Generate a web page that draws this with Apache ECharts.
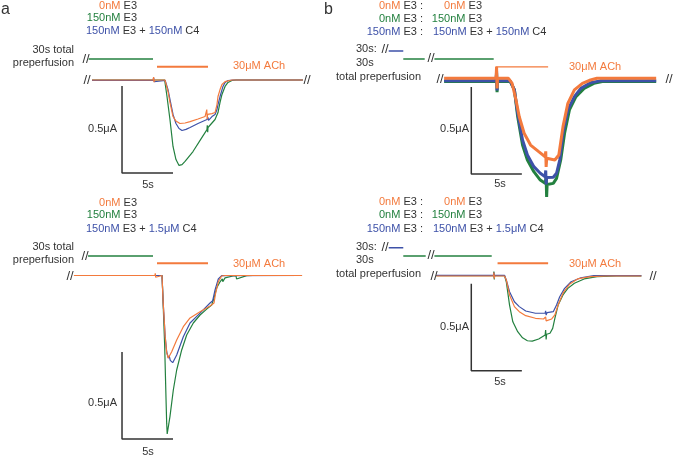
<!DOCTYPE html>
<html><head><meta charset="utf-8">
<script src="https://cdn.jsdelivr.net/npm/echarts@6/dist/echarts.min.js"></script>
<style>html,body{margin:0;padding:0;background:#fff}#c{width:676px;height:457px}</style>
</head><body><div id="c"></div>
<script>
// ---- data: time (s, 0 = ACh onset), current (uA) ----
const aTopOrange = [[-6.37,0],[-0.4,0],[-0.33,0.017],[-0.29,-0.012],[-0.25,0],[0.78,0],[1.08,-0.066],[1.27,-0.129],[1.57,-0.21],[1.86,-0.236],[2.25,-0.25],[2.75,-0.247],[3.24,-0.239],[4.02,-0.224],[4.71,-0.21],[4.85,-0.2],[4.88,-0.17],[4.92,-0.225],[4.96,-0.198],[5.39,-0.193],[5.69,-0.187],[5.88,-0.141],[5.98,-0.095],[6.18,-0.055],[6.37,-0.026],[6.67,-0.009],[6.86,-0.003],[7.35,0],[14.31,0]];
const aTopBlue = [[-6.37,-0.002],[-0.4,-0.002],[-0.32,0.012],[-0.27,-0.01],[-0.22,-0.002],[0.8,-0.002],[1.08,-0.055],[1.27,-0.112],[1.57,-0.198],[1.86,-0.25],[2.16,-0.279],[2.45,-0.29],[2.84,-0.284],[3.24,-0.273],[4.02,-0.25],[4.9,-0.227],[5.0,-0.215],[5.05,-0.232],[5.39,-0.21],[5.69,-0.198],[5.88,-0.17],[5.98,-0.141],[6.18,-0.095],[6.47,-0.037],[6.67,-0.014],[6.96,-0.003],[7.45,0],[14.31,0]];
const aTopGreen = [[-6.37,0],[-0.4,0],[0.75,0],[0.98,-0.095],[1.27,-0.227],[1.57,-0.382],[1.86,-0.457],[2.16,-0.491],[2.45,-0.486],[2.75,-0.468],[3.53,-0.411],[4.41,-0.33],[4.9,-0.285],[4.93,-0.26],[4.97,-0.3],[5.0,-0.273],[5.69,-0.227],[5.98,-0.187],[6.18,-0.129],[6.37,-0.083],[6.67,-0.037],[6.96,-0.014],[7.35,-0.003],[7.75,0],[14.31,0]];

const aBotOrange = [[-8.14,0],[-0.2,0],[-0.17,0.012],[-0.13,-0.01],[-0.1,0],[0.49,0],[0.6,-0.15],[0.8,-0.35],[0.95,-0.445],[1.11,-0.474],[1.44,-0.438],[1.93,-0.371],[2.58,-0.294],[3.24,-0.244],[4.22,-0.208],[5.2,-0.175],[5.59,-0.158],[5.75,-0.101],[6.01,-0.036],[6.34,-0.003],[6.67,0],[14.22,0]];
const aBotBlue = [[-8.14,0],[0.49,0],[0.6,-0.15],[0.8,-0.35],[0.95,-0.438],[1.11,-0.474],[1.2,-0.462],[1.3,-0.488],[1.54,-0.501],[1.93,-0.457],[2.58,-0.352],[3.24,-0.273],[4.22,-0.216],[5.2,-0.158],[5.46,-0.145],[5.69,-0.083],[6.01,-0.02],[6.34,-0.001],[14.22,0]];
const aBotGreen = [[-8.14,0],[0.5,0],[0.56,-0.007],[0.75,-0.4],[0.88,-0.7],[0.95,-0.85],[1.0,-0.911],[1.05,-0.905],[1.27,-0.811],[1.6,-0.658],[1.93,-0.543],[2.42,-0.428],[2.91,-0.342],[3.56,-0.273],[4.22,-0.227],[4.87,-0.193],[5.36,-0.17],[5.59,-0.129],[5.85,-0.072],[6.18,-0.036],[6.4,-0.02],[6.45,-0.035],[6.6,-0.025],[6.67,-0.014],[7.45,-0.003],[7.75,-0.003],[7.8,-0.02],[7.94,-0.009],[8.79,-0.001],[9.41,0],[14.22,0]];

const bTopOrange = [[-5.39,0.01],[-0.15,0.01],[-0.1,0.076],[-0.05,-0.048],[0.0,0.01],[1.1,0.01],[1.47,-0.02],[1.86,-0.115],[2.19,-0.211],[2.68,-0.306],[3.33,-0.374],[4.15,-0.412],[4.8,-0.441],[4.86,-0.41],[4.9,-0.5],[4.96,-0.45],[5.13,-0.46],[5.78,-0.46],[6.18,-0.431],[6.6,-0.268],[7.09,-0.134],[7.75,-0.057],[8.56,-0.019],[9.38,0],[10.03,0.01],[16.0,0.01]];
const bTopBlue = [[-5.39,-0.005],[-0.15,-0.005],[-0.1,0.05],[-0.05,-0.06],[0.0,-0.005],[1.27,-0.005],[1.7,-0.057],[2.03,-0.191],[2.52,-0.345],[3.01,-0.431],[3.66,-0.498],[4.31,-0.536],[4.8,-0.556],[4.86,-0.52],[4.9,-0.6],[4.95,-0.56],[5.62,-0.559],[5.95,-0.536],[6.27,-0.46],[6.6,-0.306],[7.09,-0.172],[7.75,-0.096],[8.4,-0.048],[9.38,-0.016],[10.36,-0.005],[16.0,-0.005]];
const bTopGreen = [[-5.39,-0.008],[-0.15,-0.008],[-0.1,0.04],[-0.05,-0.07],[0.0,-0.008],[1.27,-0.008],[1.7,-0.057],[2.03,-0.211],[2.52,-0.374],[3.01,-0.46],[3.66,-0.527],[4.31,-0.575],[4.8,-0.594],[4.9,-0.557],[4.95,-0.672],[5.0,-0.6],[5.62,-0.594],[5.95,-0.565],[6.37,-0.46],[6.76,-0.306],[7.25,-0.172],[7.91,-0.096],[8.73,-0.048],[9.71,-0.019],[10.69,-0.008],[16.0,-0.008]];

const bBotOrange = [[-6.18,0],[-0.4,0],[-0.37,0.02],[-0.33,-0.015],[-0.3,0],[0.7,0],[0.88,-0.023],[1.21,-0.109],[1.7,-0.176],[2.19,-0.205],[2.84,-0.228],[3.82,-0.243],[4.64,-0.247],[4.8,-0.247],[4.85,-0.235],[4.9,-0.258],[5.46,-0.247],[5.78,-0.224],[6.11,-0.167],[6.6,-0.099],[7.25,-0.048],[8.07,-0.017],[9.38,-0.004],[11,0],[14.51,0]];
const bBotBlue = [[-6.18,0.004],[-0.4,0.004],[-0.37,0.02],[-0.33,-0.01],[-0.3,0.004],[0.7,0.004],[0.88,-0.023],[1.21,-0.09],[1.7,-0.148],[2.19,-0.176],[2.84,-0.201],[3.82,-0.214],[4.8,-0.214],[4.85,-0.2],[4.9,-0.225],[5.0,-0.21],[5.62,-0.205],[5.95,-0.167],[6.27,-0.119],[6.76,-0.071],[7.42,-0.033],[8.4,-0.01],[9.71,0.002],[14.51,0.002]];
const bBotGreen = [[-6.18,0.002],[-0.4,0.002],[-0.37,0.025],[-0.33,-0.02],[-0.3,0.002],[0.7,0.002],[0.88,-0.033],[1.21,-0.167],[1.54,-0.263],[2.03,-0.32],[2.52,-0.355],[3.01,-0.372],[3.5,-0.374],[4.15,-0.362],[4.8,-0.339],[4.85,-0.31],[4.9,-0.365],[4.95,-0.335],[5.29,-0.329],[5.56,-0.301],[5.78,-0.243],[6.11,-0.167],[6.6,-0.109],[7.09,-0.071],[7.75,-0.042],[8.73,-0.017],[10.03,-0.004],[11.99,0],[14.51,0]];

// perfusion bars (time span, drawn level)
const aTopPre = [[-6.7,0.121],[-0.39,0.121]];
const aTopAch = [[0,0.076],[5.0,0.076]];
const aBotPre = [[-6.76,0.112],[-0.39,0.112]];
const aBotAch = [[0,0.07],[5.0,0.07]];
const bTopPreBlue = [[-10.98,0.167],[-9.51,0.167]];
const bTopPreGreen1 = [[-9.51,0.121],[-7.35,0.121]];
const bTopPreGreen2 = [[-6.37,0.121],[-0.39,0.121]];
const bTopAch = [[-0.2,0.076],[5.1,0.076]];
const bBotPreBlue = [[-10.98,0.163],[-9.51,0.163]];
const bBotPreGreen1 = [[-9.51,0.115],[-7.25,0.115]];
const bBotPreGreen2 = [[-6.37,0.115],[-0.59,0.115]];
const bBotAch = [[0,0.073],[5.1,0.073]];

// scale bars: 0.5 uA vertical, 5 s horizontal
const aTopScale = [[-3.43,-0.035],[-3.43,-0.535],[1.57,-0.535]];
const aBotScale = [[-3.43,-0.44],[-3.43,-0.94],[1.57,-0.94]];
const bTopScale = [[-2.65,-0.04],[-2.65,-0.54],[2.45,-0.54]];
const bBotScale = [[-2.65,-0.045],[-2.65,-0.545],[2.45,-0.545]];

const legendA1 = ['0nM', '150nM', '150nM', '150nM'];
const legendA2 = ['0nM', '150nM', '150nM', '1.5\u03bcM'];

// ---- styling ----
const ORANGE = '#F37A3D', GREEN = '#23803F', BLUE = '#3D51A8', INK = '#333333';
const FONT = '11px "Liberation Sans", Arial, sans-serif';
const PXS = 10.2, PXA = 174;

function gridFor(t0px, basePx, xmin, xmax, ymin, ymax) {
  return {left: t0px + xmin * PXS, width: (xmax - xmin) * PXS, top: basePx - ymax * PXA, height: (ymax - ymin) * PXA, containLabel: false};
}
const panels = [
  {g: gridFor(157, 80, -10, 16, -1.0, 0.3), xr: [-10, 16]},
  {g: gridFor(157, 275.5, -10, 16, -1.0, 0.3), xr: [-10, 16]},
  {g: gridFor(501, 80, -12, 18, -1.0, 0.3), xr: [-12, 18]},
  {g: gridFor(501, 276, -12, 18, -1.0, 0.3), xr: [-12, 18]}
];

function ln(i, data, color, width, z) {
  return {type: 'line', xAxisIndex: i, yAxisIndex: i, data: data, showSymbol: false, symbol: 'none',
    lineStyle: {color: color, width: width}, z: z || 2, silent: true, animation: false};
}

const series = [
  ln(0, aTopPre, GREEN, 1.6), ln(0, aTopAch, ORANGE, 2), ln(0, aTopScale, INK, 1.5),
  ln(0, aTopGreen, GREEN, 1.2, 3), ln(0, aTopBlue, BLUE, 1.2, 4), ln(0, aTopOrange, ORANGE, 1.2, 5),

  ln(1, aBotPre, GREEN, 1.6), ln(1, aBotAch, ORANGE, 2), ln(1, aBotScale, INK, 1.5),
  ln(1, aBotGreen, GREEN, 1.2, 3), ln(1, aBotBlue, BLUE, 1.2, 4), ln(1, aBotOrange, ORANGE, 1.2, 5),

  ln(2, bTopPreBlue, BLUE, 1.5), ln(2, bTopPreGreen1, GREEN, 1.5), ln(2, bTopPreGreen2, GREEN, 1.5),
  ln(2, bTopAch, ORANGE, 1.2), ln(2, bTopScale, INK, 1.5),
  ln(2, bTopGreen, GREEN, 3, 3), ln(2, bTopBlue, BLUE, 3, 4), ln(2, bTopOrange, ORANGE, 3, 5),

  ln(3, bBotPreBlue, BLUE, 1.5), ln(3, bBotPreGreen1, GREEN, 1.5), ln(3, bBotPreGreen2, GREEN, 1.5),
  ln(3, bBotAch, ORANGE, 2), ln(3, bBotScale, INK, 1.5),
  ln(3, bBotGreen, GREEN, 1.2, 3), ln(3, bBotBlue, BLUE, 1.2, 4), ln(3, bBotOrange, ORANGE, 1.2, 5)
];

const rich = {
  o: {fill: ORANGE, color: ORANGE, font: FONT}, g: {fill: GREEN, color: GREEN, font: FONT},
  b: {fill: BLUE, color: BLUE, font: FONT}, k: {fill: INK, color: INK, font: FONT}
};
function T(text, x, y, align, opts) {
  opts = opts || {};
  return {type: 'text', x: x, y: y, silent: true, z: 10,
    style: {text: text, align: align || 'left', verticalAlign: 'middle', font: opts.font || FONT,
      fill: opts.fill || INK, rich: rich}};
}
const SL = '13px "Liberation Sans", Arial, sans-serif';
const graphics = [
  T('a', 1, 10, 'left', {font: '16px "Liberation Sans", Arial'}),
  T('b', 324, 10, 'left', {font: '16px "Liberation Sans", Arial'}),
  // panel a top
  T('{o|' + legendA1[0] + '}{k| E3}', 137, 5.5, 'right'),
  T('{g|' + legendA1[1] + '}{k| E3}', 137, 18, 'right'),
  T('{b|' + legendA1[2] + '}{k| E3 + }{b|' + legendA1[3] + '}{k| C4}', 86, 31, 'left'),
  T('30s total', 74, 50, 'right'), T('preperfusion', 74, 63, 'right'),
  T('30\u03bcM ACh', 233, 66, 'left', {fill: ORANGE}),
  T('0.5\u03bcA', 117, 129, 'right'), T('5s', 148, 185, 'center'),
  T('//', 86, 59, 'center', {font: SL}), T('//', 87, 80, 'center', {font: SL}), T('//', 307, 80, 'center', {font: SL}),
  // panel a bottom
  T('{o|' + legendA2[0] + '}{k| E3}', 137, 202.5, 'right'),
  T('{g|' + legendA2[1] + '}{k| E3}', 137, 215, 'right'),
  T('{b|' + legendA2[2] + '}{k| E3 + }{b|' + legendA2[3] + '}{k| C4}', 86, 228.5, 'left'),
  T('30s total', 74, 247, 'right'), T('preperfusion', 74, 260, 'right'),
  T('30\u03bcM ACh', 233, 263.5, 'left', {fill: ORANGE}),
  T('0.5\u03bcA', 117, 403, 'right'), T('5s', 148, 451.5, 'center'),
  T('//', 85, 256, 'center', {font: SL}), T('//', 70, 276, 'center', {font: SL}),
  // panel b top
  T('{o|0nM}{k| E3 :}', 423, 5.5, 'right'), T('{o|0nM}{k| E3}', 482, 5.5, 'right'),
  T('{g|0nM}{k| E3 :}', 423, 18.5, 'right'), T('{g|150nM}{k| E3}', 482, 18.5, 'right'),
  T('{b|150nM}{k| E3 :}', 423, 32, 'right'), T('{b|150nM}{k| E3 + }{b|150nM}{k| C4}', 433, 32, 'left'),
  T('30s:', 356, 49, 'left'), T('//', 385, 49.5, 'center', {font: SL}), T('30s', 356, 62.5, 'left'),
  T('total preperfusion', 421, 77, 'right'),
  T('30\u03bcM ACh', 569, 66.5, 'left', {fill: ORANGE}),
  T('0.5\u03bcA', 469, 129, 'right'), T('5s', 500, 184, 'center'),
  T('//', 431, 58.5, 'center', {font: SL}), T('//', 440, 79, 'center', {font: SL}), T('//', 669, 79, 'center', {font: SL}),
  // panel b bottom
  T('{o|0nM}{k| E3 :}', 423, 202, 'right'), T('{o|0nM}{k| E3}', 482, 202, 'right'),
  T('{g|0nM}{k| E3 :}', 423, 215, 'right'), T('{g|150nM}{k| E3}', 482, 215, 'right'),
  T('{b|150nM}{k| E3 :}', 423, 229, 'right'), T('{b|150nM}{k| E3 + }{b|1.5\u03bcM}{k| C4}', 433, 229, 'left'),
  T('30s:', 356, 247, 'left'), T('//', 385, 247.5, 'center', {font: SL}), T('30s', 356, 260, 'left'),
  T('total preperfusion', 421, 273.5, 'right'),
  T('30\u03bcM ACh', 569, 263.5, 'left', {fill: ORANGE}),
  T('0.5\u03bcA', 469, 327, 'right'), T('5s', 500, 382, 'center'),
  T('//', 431, 255.5, 'center', {font: SL}), T('//', 434, 276, 'center', {font: SL}), T('//', 653, 276, 'center', {font: SL})
];

const chart = echarts.init(document.getElementById('c'), null, {renderer: 'canvas'});
chart.setOption({
  backgroundColor: '#ffffff',
  animation: false,
  grid: panels.map(p => p.g),
  xAxis: panels.map((p, i) => ({type: 'value', gridIndex: i, min: p.xr[0], max: p.xr[1], show: false})),
  yAxis: panels.map((p, i) => ({type: 'value', gridIndex: i, min: -1.0, max: 0.3, show: false})),
  series: series,
  graphic: graphics
});
</script></body></html>
